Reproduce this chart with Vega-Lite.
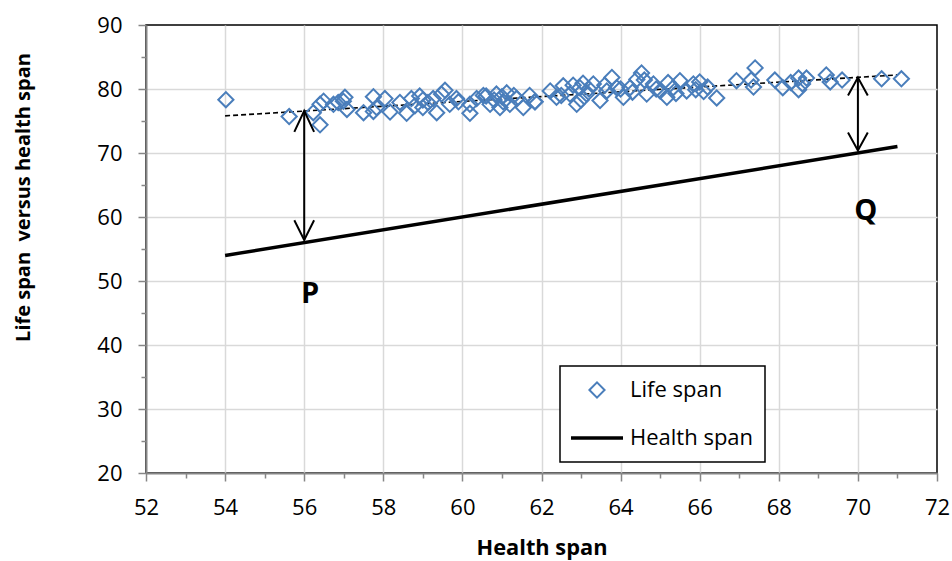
{
  "$schema": "https://vega.github.io/schema/vega-lite/v6.json",
  "width": 791,
  "height": 448,
  "autosize": "none",
  "padding": {"left": 146, "top": 25, "right": 15, "bottom": 88},
  "background": "white",
  "config": {
    "font": "Open Sans",
    "view": {"stroke": "#000000", "strokeWidth": 1.5},
    "axis": {
      "domainColor": "#868686",
      "domainWidth": 2,
      "tickColor": "#868686",
      "tickWidth": 1.5,
      "gridColor": "#D9D9D9",
      "gridWidth": 1.5,
      "labelColor": "#000000",
      "labelFontSize": 22,
      "labelFont": "Open Sans",
      "labelFlush": false,
      "labelOverlap": false,
      "titleColor": "#000000",
      "titleFont": "Open Sans",
      "titleFontWeight": "bold"
    },
    "legend": {
      "title": null,
      "orient": "none",
      "legendX": 414,
      "legendY": 341,
      "strokeColor": "#000000",
      "fillColor": "#ffffff",
      "padding": 11,
      "symbolSize": 2704,
      "clipHeight": 26,
      "rowPadding": 22,
      "labelFont": "Open Sans",
      "labelFontSize": 22,
      "labelColor": "#000000",
      "labelOffset": 37,
      "labelLimit": 300
    }
  },
  "datasets": {
    "life": [
      {"h": 54.02, "l": 78.33}, {"h": 55.62, "l": 75.7}, {"h": 56.23, "l": 76.3}, {"h": 56.4, "l": 74.4},
      {"h": 56.4, "l": 77.6}, {"h": 56.49, "l": 78.1}, {"h": 56.74, "l": 77.6}, {"h": 56.86, "l": 77.9},
      {"h": 56.99, "l": 78.1}, {"h": 57.08, "l": 76.8}, {"h": 57.03, "l": 78.7}, {"h": 57.5, "l": 76.3},
      {"h": 57.75, "l": 78.8}, {"h": 57.75, "l": 76.5}, {"h": 57.83, "l": 77.1}, {"h": 58.04, "l": 78.5},
      {"h": 58.17, "l": 76.4}, {"h": 58.42, "l": 77.9}, {"h": 58.59, "l": 76.2}, {"h": 58.71, "l": 78.5},
      {"h": 58.92, "l": 78.9}, {"h": 59.0, "l": 77.1}, {"h": 59.13, "l": 77.9}, {"h": 59.26, "l": 78.5},
      {"h": 59.35, "l": 76.3}, {"h": 59.47, "l": 79.2}, {"h": 59.56, "l": 79.8}, {"h": 59.68, "l": 77.6},
      {"h": 59.85, "l": 78.5}, {"h": 60.19, "l": 77.6}, {"h": 60.19, "l": 76.2}, {"h": 60.36, "l": 78.5},
      {"h": 60.53, "l": 79.0}, {"h": 60.7, "l": 77.6}, {"h": 60.86, "l": 79.2}, {"h": 60.95, "l": 77.1},
      {"h": 61.03, "l": 78.0}, {"h": 61.12, "l": 79.4}, {"h": 61.2, "l": 77.6}, {"h": 61.37, "l": 78.5},
      {"h": 61.54, "l": 77.1}, {"h": 61.7, "l": 79.0}, {"h": 61.83, "l": 78.0}, {"h": 61.0, "l": 78.8},
      {"h": 60.8, "l": 78.3}, {"h": 61.3, "l": 79.0}, {"h": 60.6, "l": 78.9}, {"h": 59.9, "l": 78.0},
      {"h": 59.0, "l": 78.3}, {"h": 58.8, "l": 77.4}, {"h": 61.84, "l": 78.0}, {"h": 62.22, "l": 79.7},
      {"h": 62.38, "l": 78.7}, {"h": 62.55, "l": 80.5}, {"h": 62.72, "l": 79.2}, {"h": 62.89, "l": 77.6},
      {"h": 62.97, "l": 80.2}, {"h": 63.14, "l": 79.2}, {"h": 63.31, "l": 80.8}, {"h": 63.48, "l": 78.2},
      {"h": 63.65, "l": 79.7}, {"h": 63.78, "l": 81.8}, {"h": 63.9, "l": 80.2}, {"h": 64.07, "l": 78.7},
      {"h": 64.24, "l": 80.2}, {"h": 64.41, "l": 81.5}, {"h": 64.53, "l": 82.5}, {"h": 64.66, "l": 79.2},
      {"h": 64.83, "l": 80.8}, {"h": 65.0, "l": 79.7}, {"h": 65.17, "l": 78.7}, {"h": 65.33, "l": 80.2},
      {"h": 65.5, "l": 81.3}, {"h": 65.67, "l": 79.7}, {"h": 65.84, "l": 80.8}, {"h": 62.5, "l": 79.0},
      {"h": 62.8, "l": 80.6}, {"h": 63.0, "l": 78.3}, {"h": 63.2, "l": 80.0}, {"h": 63.05, "l": 80.9},
      {"h": 63.6, "l": 80.6}, {"h": 64.0, "l": 80.0}, {"h": 64.3, "l": 79.5}, {"h": 64.6, "l": 81.4},
      {"h": 64.9, "l": 80.0}, {"h": 65.2, "l": 81.0}, {"h": 65.4, "l": 79.3}, {"h": 65.9, "l": 79.9},
      {"h": 66.0, "l": 81.1}, {"h": 66.2, "l": 80.3}, {"h": 66.1, "l": 79.6}, {"h": 66.43, "l": 78.6},
      {"h": 66.93, "l": 81.3}, {"h": 67.4, "l": 83.3}, {"h": 67.36, "l": 80.3}, {"h": 67.3, "l": 81.4},
      {"h": 67.9, "l": 81.4}, {"h": 68.1, "l": 80.2}, {"h": 68.5, "l": 79.9}, {"h": 68.5, "l": 81.7},
      {"h": 68.7, "l": 81.7}, {"h": 68.3, "l": 81.0}, {"h": 68.6, "l": 80.8}, {"h": 69.2, "l": 82.2},
      {"h": 69.3, "l": 81.1}, {"h": 69.6, "l": 81.4}, {"h": 70.6, "l": 81.6}, {"h": 71.1, "l": 81.6}
    ],
    "trend": [{"h": 54, "l": 75.8}, {"h": 71, "l": 82.2}],
    "health": [{"h": 54, "l": 54}, {"h": 71, "l": 71}],
    "shafts": [{"h": 56, "top": 76.6, "bottom": 56.4}, {"h": 70, "top": 81.8, "bottom": 70.4}],
    "heads": [
      {"head": "P1", "h": 55.75, "l": 73.3}, {"head": "P1", "h": 56, "l": 76.6}, {"head": "P1", "h": 56.25, "l": 73.3},
      {"head": "P2", "h": 55.75, "l": 59.5}, {"head": "P2", "h": 56, "l": 56.4}, {"head": "P2", "h": 56.25, "l": 59.5},
      {"head": "Q1", "h": 69.75, "l": 79.0}, {"head": "Q1", "h": 70, "l": 81.8}, {"head": "Q1", "h": 70.25, "l": 79.0},
      {"head": "Q2", "h": 69.75, "l": 73.2}, {"head": "Q2", "h": 70, "l": 70.4}, {"head": "Q2", "h": 70.25, "l": 73.2}
    ],
    "labels": [{"h": 56.15, "l": 47.9, "t": "P"}, {"h": 70.2, "l": 60.9, "t": "Q"}]
  },
  "encoding": {
    "x": {
      "field": "h", "type": "quantitative",
      "scale": {"domain": [52, 72], "nice": false, "zero": false},
      "axis": {
        "title": "Health span",
        "titleFontSize": 21.8,
        "values": [52,53,54,55,56,57,58,59,60,61,62,63,64,65,66,67,68,69,70,71,72],
        "labelExpr": "datum.value % 2 === 0 ? datum.label : ''",
        "grid": true,
        "gridOpacity": {"condition": {"test": "datum.value % 2 !== 0 || datum.value === 52 || datum.value === 72", "value": 0}, "value": 1},
        "tickSize": {"condition": {"test": "datum.value % 2 !== 0", "value": 5}, "value": 8},
        "labelPadding": 16,
        "titlePadding": 19
      }
    },
    "y": {
      "field": "l", "type": "quantitative",
      "scale": {"domain": [20, 90], "nice": false, "zero": false},
      "axis": {
        "title": "Life span\u00a0 versus health span",
        "titleFontSize": 20,
        "values": [20,25,30,35,40,45,50,55,60,65,70,75,80,85,90],
        "labelExpr": "datum.value % 10 === 0 ? datum.label : ''",
        "grid": true,
        "gridOpacity": {"condition": {"test": "datum.value % 10 !== 0 || datum.value === 20 || datum.value === 90", "value": 0}, "value": 1},
        "tickSize": {"condition": {"test": "datum.value % 10 !== 0", "value": 5}, "value": 8},
        "labelPadding": 16,
        "titleX": -113,
        "titleY": 172
      }
    },
    "color": {
      "field": "s", "type": "nominal",
      "scale": {"domain": ["Life span", "Health span"], "range": ["#4A7EBB", "#000000"]},
      "legend": {
        "encode": {
          "legend": {"update": {"strokeWidth": {"value": 1.5}}},
          "symbols": {
            "update": {
              "x": {"value": 26},
              "shape": {"signal": "datum.value === 'Health span' ? 'stroke' : 'diamond'"},
              "size": {"signal": "datum.value === 'Health span' ? 2704 : 230"},
              "strokeWidth": {"signal": "datum.value === 'Health span' ? 3.5 : 2"},
              "fill": {"value": "transparent"},
              "opacity": {"value": 1}
            }
          }
        }
      }
    }
  },
  "layer": [
    {
      "data": {"name": "trend"},
      "mark": {"type": "line", "strokeWidth": 1.6, "strokeDash": [5, 3]},
      "encoding": {"color": {"value": "#000000"}}
    },
    {
      "data": {"name": "life"},
      "transform": [{"calculate": "'Life span'", "as": "s"}],
      "mark": {"type": "point", "shape": "diamond", "filled": false, "strokeWidth": 2, "size": 230, "opacity": 1}
    },
    {
      "data": {"name": "health"},
      "transform": [{"calculate": "'Health span'", "as": "s"}],
      "mark": {"type": "line", "strokeWidth": 3.5}
    },
    {
      "data": {"name": "shafts"},
      "mark": {"type": "rule", "strokeWidth": 2},
      "encoding": {"y": {"field": "top", "type": "quantitative"}, "y2": {"field": "bottom"}, "color": {"value": "#000000"}}
    },
    {
      "data": {"name": "heads"},
      "mark": {"type": "line", "strokeWidth": 2},
      "encoding": {"detail": {"field": "head", "type": "nominal"}, "color": {"value": "#000000"}}
    },
    {
      "data": {"name": "labels"},
      "mark": {"type": "text", "font": "Open Sans", "fontSize": 29, "fontWeight": "bold", "baseline": "middle", "align": "center"},
      "encoding": {"text": {"field": "t", "type": "nominal"}, "color": {"value": "#000000"}}
    }
  ]
}
